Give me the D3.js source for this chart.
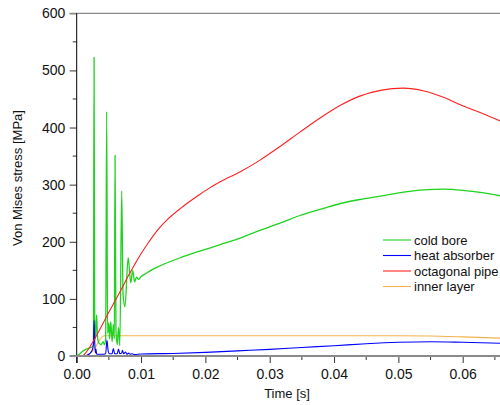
<!DOCTYPE html>
<html>
<head>
<meta charset="utf-8">
<script src="https://cdn.jsdelivr.net/npm/d3@7"></script>
<style>
  body { margin: 0; background: #fff; }
  text { font-family: "Liberation Sans", Arial, sans-serif; }
</style>
</head>
<body>
<div id="chart"></div>
<script>
// [time (s), stress (MPa)]
var coldBore = [
  [0, 0], [0.0005, 4], [0.001, 9], [0.0015, 12], [0.002, 14], [0.0024, 16], [0.0026, 20],
  [0.0027, 523], [0.0028, 40], [0.0029, 30], [0.0031, 72], [0.0032, 40], [0.0033, 28],
  [0.0035, 22], [0.0038, 20], [0.0041, 25], [0.0043, 20], [0.0045, 30], [0.00466, 428],
  [0.0048, 40], [0.005, 58], [0.0051, 30], [0.0053, 60], [0.0055, 25], [0.0057, 55],
  [0.00585, 30], [0.00596, 351], [0.0061, 45], [0.0063, 20], [0.0065, 50], [0.0067, 18],
  [0.007, 289], [0.0072, 110], [0.0075, 86], [0.008, 172], [0.0084, 128], [0.0087, 150],
  [0.009, 130], [0.0093, 138], [0.0096, 134], [0.01, 139], [0.0107, 144], [0.0114, 149],
  [0.013, 158], [0.0161, 172], [0.019, 183], [0.0223, 195], [0.0255, 207], [0.0285, 220],
  [0.0317, 233], [0.0347, 246], [0.038, 257], [0.041, 267], [0.044, 274], [0.0472, 280],
  [0.0508, 287], [0.054, 291], [0.057, 292], [0.06, 290], [0.063, 286], [0.0665, 279]
];
var heatAbsorber = [
  [0, 0], [0.0012, 0], [0.002, 4], [0.0024, 10], [0.0026, 20], [0.0027, 62], [0.0028, 25],
  [0.0029, 5], [0.003, 12], [0.0031, 3], [0.0035, 3], [0.004, 3], [0.0045, 4], [0.0047, 28],
  [0.0049, 8], [0.0051, 4], [0.0055, 4], [0.0057, 13], [0.0059, 4], [0.0063, 4], [0.0065, 12],
  [0.0067, 4], [0.007, 5], [0.0071, 10], [0.0073, 4], [0.0076, 7], [0.0078, 3], [0.0081, 5],
  [0.0083, 3], [0.0086, 4], [0.009, 2.5], [0.01, 3.5], [0.015, 4.5], [0.02, 6.4], [0.025, 9],
  [0.03, 11.6], [0.035, 15], [0.04, 18], [0.045, 21.5], [0.05, 24], [0.055, 25], [0.06, 24],
  [0.0665, 22]
];
var octagonalPipe = [
  [0, 0], [0.0008, 0], [0.0015, 7], [0.002, 15], [0.003, 34], [0.004, 55], [0.005, 77],
  [0.006, 97], [0.007, 118], [0.008, 140], [0.009, 160], [0.01, 179], [0.011, 196],
  [0.012, 212], [0.013, 226], [0.014, 238], [0.015, 248], [0.0161, 258], [0.0175, 270],
  [0.019, 282], [0.0205, 293], [0.0223, 305], [0.0255, 323], [0.0285, 343], [0.0315, 366],
  [0.0347, 392], [0.038, 418], [0.041, 439], [0.044, 455], [0.0472, 465], [0.0508, 469],
  [0.054, 464], [0.057, 453], [0.06, 438], [0.063, 425], [0.0665, 408]
];
var innerLayer = [
  [0, 0], [0.001, 0], [0.0015, 1], [0.002, 4], [0.0025, 9], [0.003, 17], [0.0035, 27],
  [0.004, 34], [0.0043, 35.5], [0.01, 35.5], [0.02, 35.5], [0.03, 35.5], [0.04, 35.5],
  [0.05, 35.5], [0.055, 35], [0.06, 33.5], [0.0665, 31]
];
var seriesNames = ["cold bore", "heat absorber", "octagonal pipe", "inner layer"];
var seriesColors = ["#1ed21e", "#0000ff", "#ff2020", "#f2b24e"];
var xTicks = [0, 0.01, 0.02, 0.03, 0.04, 0.05, 0.06];
var yTicks = [0, 100, 200, 300, 400, 500, 600];

drawChart();
function drawChart(){
    var W = 500, H = 405;
    var svg = d3.select("#chart").append("svg")
        .attr("width", W).attr("height", H);

    var x = d3.scaleLinear().domain([0, 0.06]).range([76.7, 462.7]);
    var y = d3.scaleLinear().domain([0, 600]).range([356, 13.3]);

    // minor ticks
    var xMinor = d3.range(0.005, 0.07, 0.01);
    var yMinor = d3.range(50, 600, 100);

    svg.append("g").selectAll("line").data(xMinor).enter().append("line")
        .attr("x1", function(d){ return x(d); }).attr("x2", function(d){ return x(d); })
        .attr("y1", y(0)).attr("y2", y(0) + 4)
        .attr("stroke", "#333").attr("stroke-width", 1);
    svg.append("g").selectAll("line").data(yMinor).enter().append("line")
        .attr("y1", function(d){ return y(d); }).attr("y2", function(d){ return y(d); })
        .attr("x1", x(0) - 4).attr("x2", x(0))
        .attr("stroke", "#333").attr("stroke-width", 1);

    // x axis
    var xAxis = svg.append("g")
        .attr("transform", "translate(0," + y(0) + ")")
        .call(d3.axisBottom(x).tickValues(xTicks).tickFormat(d3.format(".2f")).tickSize(7).tickSizeOuter(0));
    xAxis.select(".domain").remove();
    xAxis.selectAll(".tick line").attr("stroke", "#333");
    xAxis.selectAll("text").attr("font-size", 14).attr("fill", "#111").attr("dy", "0.9em");

    // y axis
    var yAxis = svg.append("g")
        .attr("transform", "translate(" + x(0) + ",0)")
        .call(d3.axisLeft(y).tickValues(yTicks).tickSize(7).tickSizeOuter(0));
    yAxis.select(".domain").remove();
    yAxis.selectAll(".tick line").attr("stroke", "#333");
    yAxis.selectAll("text").attr("font-size", 14).attr("fill", "#111").attr("dx", "-0.1em");

    // frame lines
    svg.append("line").attr("x1", x(0) - 7).attr("x2", W)
        .attr("y1", y(600)).attr("y2", y(600))
        .attr("stroke", "#8a8a8a").attr("stroke-width", 1.2);
    svg.append("line").attr("x1", x(0)).attr("x2", x(0))
        .attr("y1", y(600)).attr("y2", y(0) + 7)
        .attr("stroke", "#000").attr("stroke-width", 1);

    var line = d3.line()
        .x(function(d){ return x(d[0]); })
        .y(function(d){ return y(d[1]); })
        .curve(d3.curveMonotoneX);

    var data = [coldBore, heatAbsorber, octagonalPipe, innerLayer];
    var order = [3, 0, 1, 2];
    order.forEach(function(i){
        svg.append("path").datum(data[i])
            .attr("fill", "none")
            .attr("stroke", seriesColors[i])
            .attr("stroke-width", i == 0 ? 1.3 : 1.1)
            .attr("d", line);
    });

    // bottom axis line (gray, drawn on top like the reference)
    svg.append("line").attr("x1", x(0) - 7).attr("x2", W)
        .attr("y1", y(0)).attr("y2", y(0))
        .attr("stroke", "#8a8a8a").attr("stroke-width", 2);

    // axis titles
    svg.append("text")
        .attr("x", 287).attr("y", 398)
        .attr("text-anchor", "middle").attr("font-size", 13).attr("fill", "#111")
        .text("Time [s]");
    svg.append("text")
        .attr("transform", "translate(22,178)rotate(-90)")
        .attr("text-anchor", "middle").attr("font-size", 13).attr("fill", "#111")
        .text("Von Mises stress [MPa]");

    // legend
    var legend = svg.append("g").attr("transform", "translate(383,240)");
    seriesNames.forEach(function(name, i){
        var g = legend.append("g").attr("transform", "translate(0," + (i * 15.5) + ")");
        g.append("line").attr("x1", 0).attr("x2", 28).attr("y1", 0).attr("y2", 0)
            .attr("stroke", seriesColors[i]).attr("stroke-width", 1.1);
        g.append("text").attr("x", 31).attr("y", 0).attr("dy", "0.35em")
            .attr("font-size", 13).attr("fill", "#111").text(name);
    });
}
</script>
</body>
</html>
